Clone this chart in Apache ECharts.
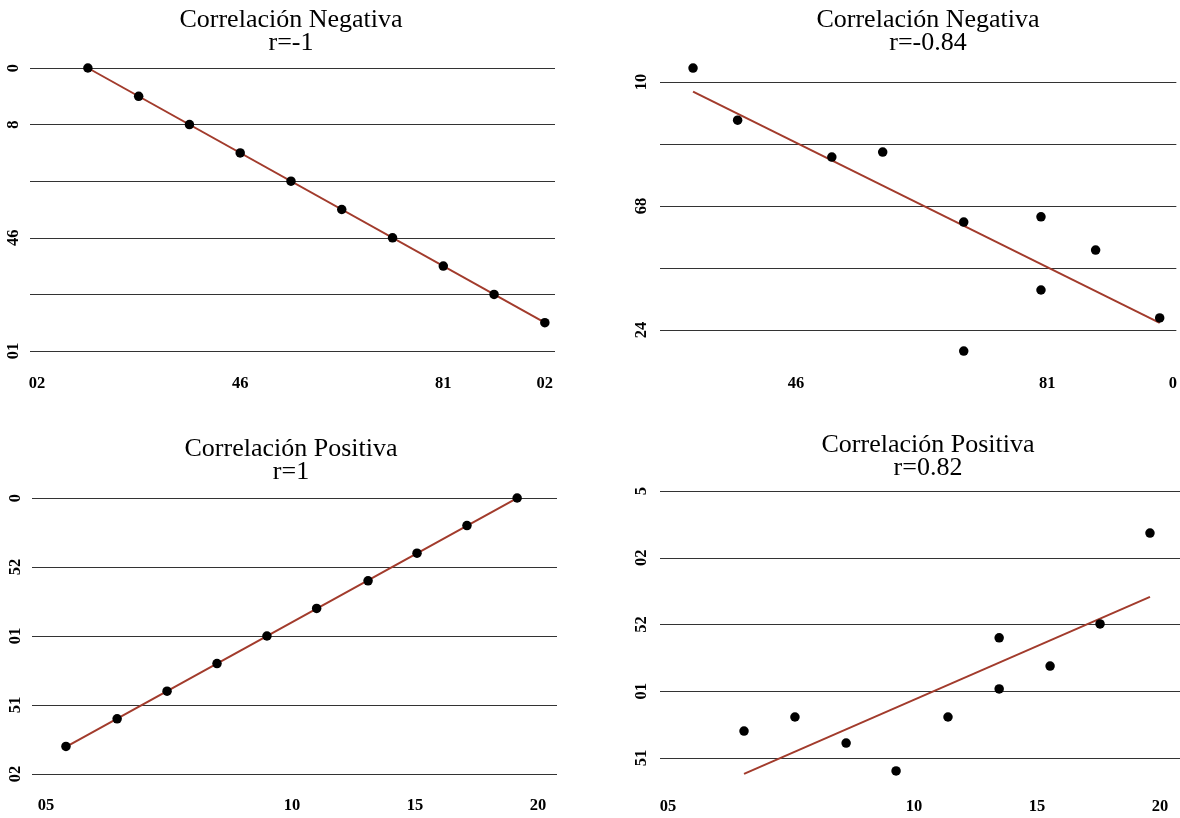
<!DOCTYPE html>
<html>
<head>
<meta charset="utf-8">
<script src="https://cdn.jsdelivr.net/npm/echarts@6/dist/echarts.min.js"></script>
<style>html,body{margin:0;padding:0;background:#fff}#c{width:1180px;height:818px}</style>
</head>
<body>
<div id="c"></div>
<script>
// ---- Panel 1: Correlación Negativa r=-1
const p1X = [1, 2, 3, 4, 5, 6, 7, 8, 9, 10];
const p1Y = [10, 9, 8, 7, 6, 5, 4, 3, 2, 1];
const p1XTicks = [0, 4, 8, 10];
const p1XLabels = ['02', '46', '81', '02'];
const p1YTicks = [10, 8, 6, 4, 2, 0];
const p1YLabels = ['0', '8', '', '46', '', '01'];

// ---- Panel 2: Correlación Negativa r=-0.84
const p2X = [2.36, 3.07, 4.57, 5.38, 6.67, 6.67, 7.9, 7.9, 8.77, 9.79];
const p2Y = [10.45, 8.77, 7.58, 7.74, 5.48, 1.32, 5.65, 3.29, 4.58, 2.39];
const p2XTicks = [4, 8, 10];
const p2XLabels = ['46', '81', '0'];
const p2YTicks = [10, 8, 6, 4, 2];
const p2YLabels = ['10', '', '68', '', '24'];

// ---- Panel 3: Correlación Positiva r=1
const p3X = [0.81, 2.89, 4.92, 6.95, 8.98, 11.0, 13.09, 15.08, 17.11, 19.15];
const p3Y = [2, 4, 6, 8, 10, 12, 14, 16, 18, 20];
const p3XTicks = [0, 10, 15, 20];
const p3XLabels = ['05', '10', '15', '20'];
const p3YTicks = [20, 15, 10, 5, 0];
const p3YLabels = ['0', '52', '01', '51', '02'];

// ---- Panel 4: Correlación Positiva r=0.82
const p4X = [3.09, 5.16, 7.24, 9.27, 11.38, 13.46, 13.46, 15.53, 17.56, 19.59];
const p4Y = [7.02, 8.07, 6.12, 4.03, 8.07, 14.0, 10.17, 11.89, 15.04, 21.85];
const p4XTicks = [0, 10, 15, 20];
const p4XLabels = ['05', '10', '15', '20'];
const p4YTicks = [25, 20, 15, 10, 5];
const p4YLabels = ['5', '02', '52', '01', '51'];

const titles = [
  'Correlación Negativa\nr=-1',
  'Correlación Negativa\nr=-0.84',
  'Correlación Positiva\nr=1',
  'Correlación Positiva\nr=0.82'
];

function fit(xs, ys) {
  const n = xs.length;
  const mx = xs.reduce((a, b) => a + b, 0) / n;
  const my = ys.reduce((a, b) => a + b, 0) / n;
  let sxy = 0, sxx = 0;
  for (let i = 0; i < n; i++) { sxy += (xs[i] - mx) * (ys[i] - my); sxx += (xs[i] - mx) ** 2; }
  const b = sxy / sxx, a = my - b * mx;
  const x0 = Math.min(...xs), x1 = Math.max(...xs);
  return [[x0, a + b * x0], [x1, a + b * x1]];
}
function pairs(xs, ys) { return xs.map((x, i) => [x, ys[i]]); }
function mapper(ticks, labels) {
  return function (v) {
    for (let i = 0; i < ticks.length; i++) if (Math.abs(ticks[i] - v) < 1e-6) return labels[i];
    return '';
  };
}

const panels = [
  {X: p1X, Y: p1Y, xt: p1XTicks, xl: p1XLabels, yt: p1YTicks, yl: p1YLabels,
   grid: {left: 30, top: 68, width: 525, height: 283}, xmin: -0.14, xmax: 10.2, ymin: 0, ymax: 10, yint: 2,
   tx: 291, ty: 9, xm: 24, ym: 8},
  {X: p2X, Y: p2Y, xt: p2XTicks, xl: p2XLabels, yt: p2YTicks, yl: p2YLabels,
   grid: {left: 660, top: 82, width: 520, height: 248}, xmin: 1.834, xmax: 10.055, ymin: 2, ymax: 10, yint: 2,
   tx: 928, ty: 9, xm: 45, ym: 10},
  {X: p3X, Y: p3Y, xt: p3XTicks, xl: p3XLabels, yt: p3YTicks, yl: p3YLabels,
   grid: {left: 32, top: 498, width: 525, height: 276}, xmin: -0.57, xmax: 20.77, ymin: 0, ymax: 20, yint: 5,
   tx: 291, ty: 438, xm: 23, ym: 8},
  {X: p4X, Y: p4Y, xt: p4XTicks, xl: p4XLabels, yt: p4YTicks, yl: p4YLabels,
   grid: {left: 660, top: 491, width: 520, height: 267}, xmin: -0.325, xmax: 20.81, ymin: 5, ymax: 25, yint: 5,
   tx: 928, ty: 434, xm: 40, ym: 10}
];

const labelStyle = {fontFamily: 'Liberation Serif', fontWeight: 'bold', fontSize: 16.5, color: '#000'};

const option = {
  backgroundColor: '#fff',
  animation: false,
  title: panels.map((p, i) => ({
    text: titles[i], left: p.tx, top: p.ty, textAlign: 'center', padding: 0,
    textStyle: {fontFamily: 'Liberation Serif', fontWeight: 'normal', fontSize: 26, lineHeight: 23, color: '#000'}
  })),
  grid: panels.map(p => Object.assign({containLabel: false}, p.grid)),
  xAxis: panels.map((p, i) => ({
    type: 'value', gridIndex: i, min: p.xmin, max: p.xmax,
    axisLine: {show: false}, axisTick: {show: false}, splitLine: {show: false},
    axisLabel: Object.assign({customValues: p.xt, formatter: mapper(p.xt, p.xl), margin: p.xm, hideOverlap: false}, labelStyle)
  })),
  yAxis: panels.map((p, i) => ({
    type: 'value', gridIndex: i, min: p.ymin, max: p.ymax, interval: p.yint,
    axisLine: {show: false}, axisTick: {show: false},
    splitLine: {show: true, lineStyle: {color: '#333', width: 1.2}},
    axisLabel: Object.assign({rotate: 90, formatter: mapper(p.yt, p.yl), margin: p.ym, showMinLabel: true, showMaxLabel: true}, labelStyle)
  })),
  series: panels.flatMap((p, i) => [
    {type: 'line', xAxisIndex: i, yAxisIndex: i, data: fit(p.X, p.Y), showSymbol: false, symbol: 'none',
     lineStyle: {color: '#a23b2c', width: 2}, z: 2, clip: false, silent: true},
    {type: 'scatter', xAxisIndex: i, yAxisIndex: i, data: pairs(p.X, p.Y), symbolSize: 9.5,
     itemStyle: {color: '#000', opacity: 1}, z: 3, clip: false}
  ])
};

echarts.init(document.getElementById('c'), null, {renderer: 'canvas'}).setOption(option);
</script>
</body>
</html>
